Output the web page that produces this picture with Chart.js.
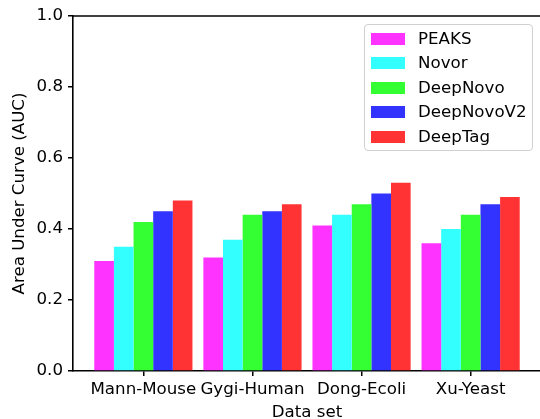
<!DOCTYPE html>
<html>
<head>
<meta charset="utf-8">
<script src="https://cdn.jsdelivr.net/npm/chart.js@4/dist/chart.umd.min.js"></script>
<style>
  body { margin: 0; overflow: hidden; background: #fff; }
  #wrap { position: relative; width: 541px; height: 419px; }
  #legend {
    position: absolute; left: 364px; top: 24px; width: 167px; height: 125px;
    border: 1px solid #d0d0d0; border-radius: 4px; background: rgba(255,255,255,0.8);
    font-family: 'DejaVu Sans', sans-serif; font-size: 16.67px; color: #000;
  }
  .item { position: absolute; left: 0; height: 24px; line-height: 24px; white-space: nowrap; }
  .swatch { position: absolute; left: 6px; top: 6px; width: 34px; height: 12px; }
  .label { position: absolute; left: 53px; top: 0; }
</style>
</head>
<body>
<div id="wrap">
  <canvas id="chart"></canvas>
  <div id="legend"></div>
</div>
<script>
const categories = ['Mann-Mouse', 'Gygi-Human', 'Dong-Ecoli', 'Xu-Yeast'];
const seriesNames = ['PEAKS', 'Novor', 'DeepNovo', 'DeepNovoV2', 'DeepTag'];
const peaks = [0.31, 0.32, 0.41, 0.36];
const novor = [0.35, 0.37, 0.44, 0.40];
const deepNovo = [0.42, 0.44, 0.47, 0.44];
const deepNovoV2 = [0.45, 0.45, 0.50, 0.47];
const deepTag = [0.48, 0.47, 0.53, 0.49];
const yTicks = [0, 0.2, 0.4, 0.6, 0.8, 1.0];

const seriesValues = [peaks, novor, deepNovo, deepNovoV2, deepTag];
const colors = ['#ff33ff', '#33ffff', '#33ff33', '#3333ff', '#ff3333'];

Chart.defaults.font.family = "'DejaVu Sans', sans-serif";
Chart.defaults.font.size = 16.67;
Chart.defaults.color = '#000';

// matplotlib style top spine
const topSpine = {
  id: 'topSpine',
  afterDraw(chart) {
    const { ctx, chartArea } = chart;
    ctx.save();
    ctx.strokeStyle = '#000';
    ctx.lineWidth = 1.6;
    ctx.beginPath();
    ctx.moveTo(chartArea.left, chartArea.top);
    ctx.lineTo(chartArea.right, chartArea.top);
    ctx.stroke();
    ctx.restore();
  }
};

const datasets = seriesNames.map((name, s) => ({
  label: name,
  data: seriesValues[s].map((v, i) => ({ x: i, y: v })),
  backgroundColor: colors[s],
  borderWidth: 0,
  categoryPercentage: 0.9,
  barPercentage: 1.0
}));

new Chart(document.getElementById('chart'), {
  type: 'bar',
  data: { datasets: datasets },
  plugins: [topSpine],
  options: {
    responsive: true,
    maintainAspectRatio: false,
    animation: false,
    layout: { padding: { top: 16, right: 0, left: 0, bottom: 0 } },
    plugins: { legend: { display: false }, tooltip: { enabled: false } },
    scales: {
      x: {
        type: 'linear',
        offset: false,
        min: -0.645,
        max: 3.645,
        afterBuildTicks: (scale) => {
          scale.ticks = categories.map((c, i) => ({ value: i }));
        },
        afterFit: (scale) => { scale.height = 48; },
        ticks: {
          autoSkip: false,
          maxRotation: 0,
          padding: 4,
          callback: (v) => categories[v]
        },
        grid: { display: true, offset: false, drawOnChartArea: false, drawTicks: true, tickLength: 5, color: '#000', lineWidth: 1.5 },
        border: { display: true, color: '#000', width: 1.6 },
        title: { display: true, text: 'Data set', font: { size: 16.67, lineHeight: 1.0 }, padding: { top: 0, bottom: -2 } }
      },
      y: {
        min: 0,
        max: 1,
        afterBuildTicks: (scale) => {
          scale.ticks = yTicks.map(v => ({ value: v }));
        },
        afterFit: (scale) => { scale.width = 73; },
        ticks: {
          padding: 5,
          callback: (v) => v.toFixed(1)
        },
        grid: { display: true, drawOnChartArea: false, drawTicks: true, tickLength: 5, color: '#000', lineWidth: 1.5 },
        border: { display: true, color: '#000', width: 1.6 },
        title: { display: true, text: 'Area Under Curve (AUC)', font: { size: 16.67 }, padding: { top: 10, bottom: 0 } }
      }
    }
  }
});

const legend = document.getElementById('legend');
seriesNames.forEach((name, s) => {
  const item = document.createElement('div');
  item.className = 'item';
  item.style.top = (2 + s * 24.4) + 'px';
  item.innerHTML = `<span class="swatch" style="background:${colors[s]}"></span><span class="label">${name}</span>`;
  legend.appendChild(item);
});
</script>
</body>
</html>
